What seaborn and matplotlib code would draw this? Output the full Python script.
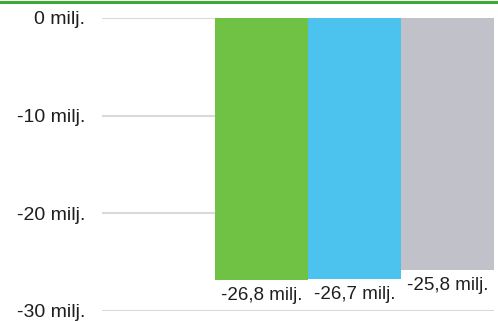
import matplotlib
matplotlib.use("Agg")
import matplotlib.pyplot as plt
import seaborn as sns

# --------------------------- DATA ---------------------------
categories = ["Sarja 1", "Sarja 2", "Sarja 3"]
values = [-26.8, -26.7, -25.8]
value_labels = ["-26,8 milj.", "-26,7 milj.", "-25,8 milj."]
colors = ["#70C244", "#4CC3EF", "#C1C2C9"]
y_ticks = [0, -10, -20, -30]
y_tick_labels = ["0 milj.", "-10 milj.", "-20 milj.", "-30 milj."]

# --------------------------- PLOT ---------------------------
sns.set_theme(style="white")
plt.rcParams["font.family"] = ["Liberation Sans", "DejaVu Sans"]

fig = plt.figure(figsize=(4.98, 3.22), dpi=100)
ax = fig.add_axes([0.2048, 0.0342, 0.7872, 0.9099])

sns.barplot(x=categories, y=values, hue=categories, palette=colors,
            width=1.0, legend=False, saturation=1, linewidth=0, ax=ax)

for cont, lab in zip(ax.containers, value_labels):
    ax.bar_label(cont, labels=[lab], padding=5, fontsize=13.5, color="#1E1E1E")

ax.set_ylim(-30, 0)
ax.set_xlim(-1.715, 2.5)
ax.set_yticks(y_ticks)
ax.set_yticklabels(y_tick_labels, fontsize=14, color="#1E1E1E")
ax.tick_params(axis="y", length=0, pad=12)
ax.set_xticks([])
ax.set_xlabel("")
ax.set_ylabel("")

ax.yaxis.grid(True, color="#D9D9D9", linewidth=1.5)
ax.set_axisbelow(True)
for s in ax.spines.values():
    s.set_visible(False)

# green line along the top edge
fig.add_artist(plt.Line2D([0, 1], [0.995, 0.995], color="#3DAA35",
                          linewidth=2.2, transform=fig.transFigure))

fig.savefig("out.png", dpi=100)
